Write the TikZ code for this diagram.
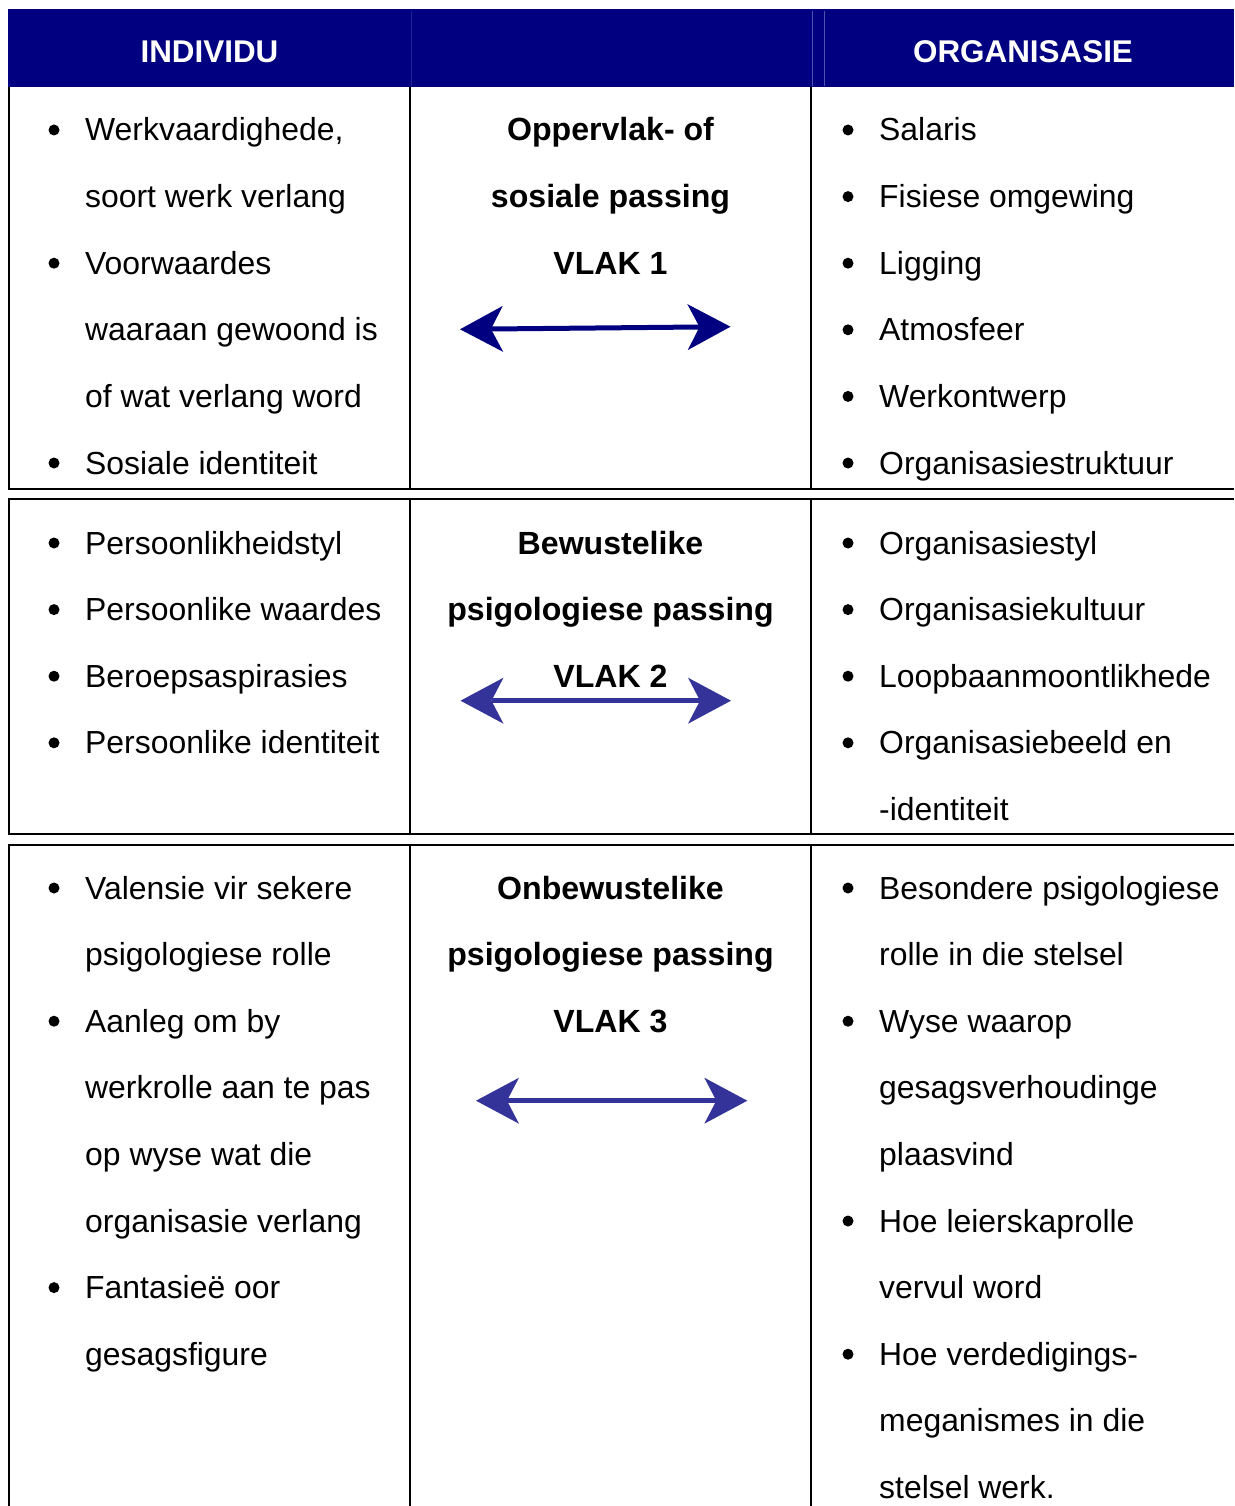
\documentclass[tikz,border=0pt]{standalone}
\usepackage{fontspec}
\setmainfont{Liberation Sans}
\usetikzlibrary{arrows.meta}
\definecolor{hdrblue}{RGB}{0,0,128}
\definecolor{hdrline}{RGB}{80,80,175}
\definecolor{arrowdark}{RGB}{0,0,128}
\definecolor{arrowmid}{RGB}{51,51,153}
\newcommand{\lh}{66.6}
\begin{document}
\begin{tikzpicture}[x=1pt,y=-1pt,
  txt/.style={inner sep=0pt, anchor=base west, font=\fontsize{31.9}{36}\selectfont},
  ctxt/.style={inner sep=0pt, anchor=base, font=\fontsize{32.1}{36}\selectfont\bfseries},
  hdr/.style={inner sep=0pt, anchor=base, text=white, font=\fontsize{31.4}{36}\selectfont\bfseries},
  rule/.style={line width=2pt, black},
  dot/.style={fill=black},
  twoway/.style={line width=5pt, {Stealth[length=43pt,width=46pt,inset=12pt,line width=0pt]}-{Stealth[length=43pt,width=46pt,inset=12pt,line width=0pt]}}
]
\useasboundingbox (0,0) rectangle (1234,1506);

% header band
\fill[hdrblue] (7.5,9) rectangle (1234,87);
\draw[hdrline!40!hdrblue, line width=1pt] (411,11) -- (411,86);
\draw[hdrline, line width=1pt] (812.3,11) -- (812.3,86);
\draw[hdrline, line width=1pt] (824.3,11) -- (824.3,86);
\node[hdr] (hind) at (209.5,62.5) {INDIVIDU};
\node[hdr] (horg) at (1023,62.5) {ORGANISASIE};

% cell borders, each row framed separately
\foreach \top/\bot in {87/489.3, 499.3/834, 844.7/1508} {
  \foreach \xx in {9,410,811} \draw[rule] (\xx,\top) -- (\xx,\bot);
}
\draw[rule] (8,489.3) -- (1234,489.3);
\draw[rule] (8,834) -- (1234,834);
\draw[rule] (8,499.3) -- (1234,499.3);
\draw[rule] (8,844.7) -- (1234,844.7);

% left column, row 1
\foreach \t [count=\i from 0] in {{Werkvaardighede,}, soort werk verlang, Voorwaardes, waaraan gewoond is, of wat verlang word, Sosiale identiteit}
  \node[txt] (l1-\i) at (85,141+\i*\lh) {\t};
\foreach \i in {0,2,5} \fill[dot] (54,130+\i*\lh) circle (5.5pt);

% right column, row 1
\foreach \t [count=\i from 0] in {Salaris, Fisiese omgewing, Ligging, Atmosfeer, Werkontwerp, Organisasiestruktuur}
  \node[txt] (r1-\i) at (879,141+\i*\lh) {\t};
\foreach \i in {0,...,5} \fill[dot] (848,130+\i*\lh) circle (5.5pt);

% centre column, row 1
\foreach \t [count=\i from 0] in {Oppervlak- of, sosiale passing, VLAK 1}
  \node[ctxt] (c1-\i) at (610.5,141+\i*\lh) {\t};
\coordinate (a1l) at (460,329.3);
\coordinate (a1r) at (730.5,326.7);
\draw[twoway, arrowdark] (a1l) -- (a1r);

% left column, row 2
\foreach \t [count=\i from 0] in {Persoonlikheidstyl, Persoonlike waardes, Beroepsaspirasies, Persoonlike identiteit}
  \node[txt] (l2-\i) at (85,554+\i*\lh) {\t};
\foreach \i in {0,...,3} \fill[dot] (54,543+\i*\lh) circle (5.5pt);

% right column, row 2
\foreach \t [count=\i from 0] in {Organisasiestyl, Organisasiekultuur, Loopbaanmoontlikhede, Organisasiebeeld en, -identiteit}
  \node[txt] (r2-\i) at (879,554+\i*\lh) {\t};
\foreach \i in {0,...,3} \fill[dot] (848,543+\i*\lh) circle (5.5pt);

% centre column, row 2
\foreach \t [count=\i from 0] in {Bewustelike, psigologiese passing, VLAK 2}
  \node[ctxt] (c2-\i) at (610.5,554+\i*\lh) {\t};
\coordinate (a2l) at (460.5,700.7);
\coordinate (a2r) at (731,700.7);
\draw[twoway, arrowmid] (a2l) -- (a2r);

% left column, row 3
\foreach \t [count=\i from 0] in {Valensie vir sekere, psigologiese rolle, Aanleg om by, werkrolle aan te pas, op wyse wat die, organisasie verlang, Fantasieë oor, gesagsfigure}
  \node[txt] (l3-\i) at (85,899+\i*\lh) {\t};
\foreach \i in {0,2,6} \fill[dot] (54,888+\i*\lh) circle (5.5pt);

% right column, row 3
\foreach \t [count=\i from 0] in {Besondere psigologiese, rolle in die stelsel, Wyse waarop, gesagsverhoudinge, plaasvind, Hoe leierskaprolle, vervul word, Hoe verdedigings-, meganismes in die, stelsel werk.}
  \node[txt] (r3-\i) at (879,899+\i*\lh) {\t};
\foreach \i in {0,2,5,7} \fill[dot] (848,888+\i*\lh) circle (5.5pt);

% centre column, row 3
\foreach \t [count=\i from 0] in {Onbewustelike, psigologiese passing, VLAK 3}
  \node[ctxt] (c3-\i) at (610.5,899+\i*\lh) {\t};
\coordinate (a3l) at (476,1100.7);
\coordinate (a3r) at (747.3,1100.7);
\draw[twoway, arrowmid] (a3l) -- (a3r);
\end{tikzpicture}
\end{document}
